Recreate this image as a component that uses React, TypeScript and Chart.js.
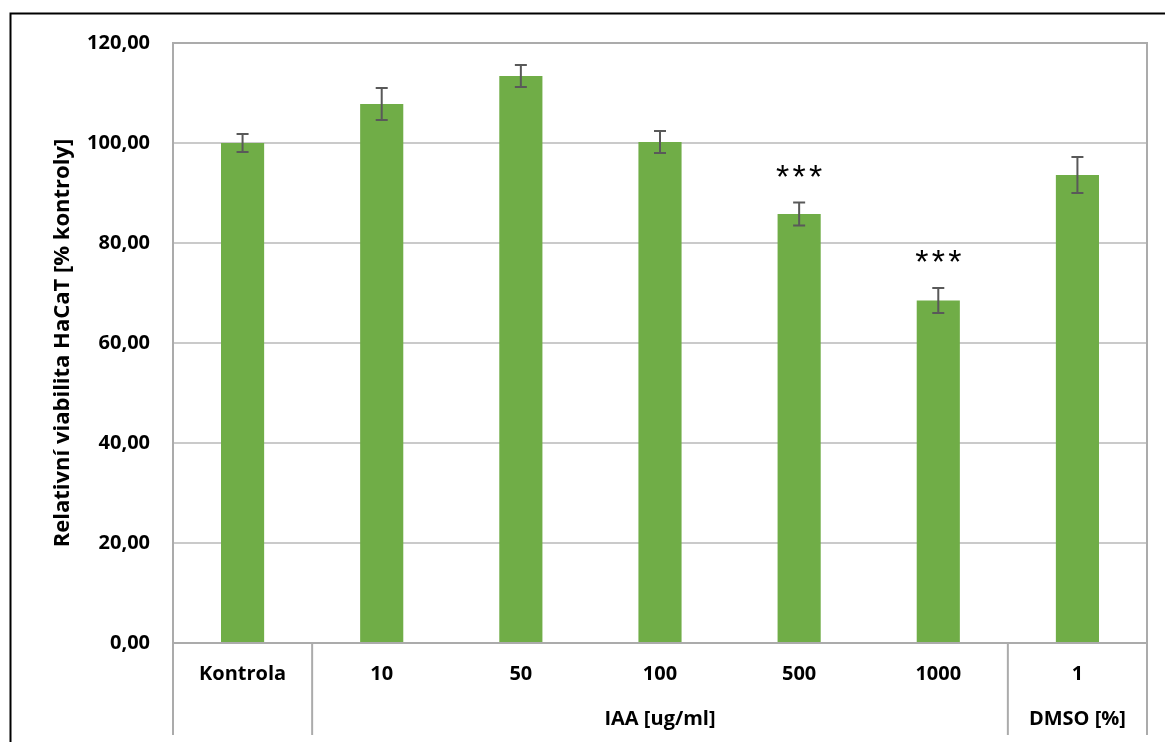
import React, { useEffect, useRef } from 'react';
import { Chart, registerables } from 'chart.js';

Chart.register(...registerables);

const categories = ['Kontrola', '10', '50', '100', '500', '1000', '1'];
const viability = [100.0, 107.8, 113.4, 100.2, 85.8, 68.5, 93.6];
const errors = [1.8, 3.2, 2.2, 2.2, 2.3, 2.5, 3.6];
const significance = ['', '', '', '', '***', '***', ''];
const groupLabels = ['', 'IAA [ug/ml]', 'DMSO [%]'];
const groupFrom = [0, 1, 6];
const groupTo = [0, 5, 6];
const yMin = 0;
const yMax = 120;
const yStep = 20;
const yTitle = 'Relativní viabilita HaCaT [% kontroly]';

const FONT = '"Open Sans", "Noto Sans", sans-serif';
const FSIZE = 20;
const TITLE_SIZE = 22;
const AXIS_GRAY = '#ABABAB';
const GRID_GRAY = '#CACACA';

const overlay = {
  id: 'overlay',
  beforeDraw(chart: any) {
    const ctx = chart.ctx;
    ctx.save();
    ctx.fillStyle = '#ffffff';
    ctx.fillRect(0, 0, chart.width, chart.height);
    ctx.strokeStyle = '#000000';
    ctx.lineWidth = 2;
    ctx.beginPath();
    ctx.moveTo(10.5, chart.height);
    ctx.lineTo(10.5, 13.5);
    ctx.lineTo(chart.width, 13.5);
    ctx.stroke();
    ctx.restore();
  },
  afterDatasetsDraw(chart: any) {
    const ctx = chart.ctx;
    const x = chart.scales.x;
    const y = chart.scales.y;
    ctx.save();
    ctx.strokeStyle = '#595959';
    ctx.lineWidth = 2;
    viability.forEach((v, i) => {
      const px = x.getPixelForValue(i);
      const top = y.getPixelForValue(v + errors[i]);
      const bot = y.getPixelForValue(v - errors[i]);
      ctx.beginPath();
      ctx.moveTo(px, top);
      ctx.lineTo(px, bot);
      ctx.moveTo(px - 6, top);
      ctx.lineTo(px + 6, top);
      ctx.moveTo(px - 6, bot);
      ctx.lineTo(px + 6, bot);
      ctx.stroke();
    });
    ctx.fillStyle = '#000000';
    ctx.font = '34px "Liberation Sans", Arial, sans-serif';
    ctx.textAlign = 'center';
    ctx.textBaseline = 'alphabetic';
    const m = ctx.measureText('*');
    const half = (m.actualBoundingBoxAscent - m.actualBoundingBoxDescent) / 2;
    significance.forEach((s, i) => {
      if (!s) return;
      const px = x.getPixelForValue(i);
      const cy = y.getPixelForValue(viability[i] + errors[i]) - 32;
      const n = s.length;
      for (let k = 0; k < n; k++) {
        const ox = (k - (n - 1) / 2) * 16.5;
        ctx.fillText('*', px + ox, cy + half);
      }
    });
    ctx.restore();
  },
  afterDraw(chart: any) {
    const ctx = chart.ctx;
    const x = chart.scales.x;
    const area = chart.chartArea;
    const bottomLine = 735;
    ctx.save();
    ctx.strokeStyle = AXIS_GRAY;
    ctx.lineWidth = 2;
    ctx.beginPath();
    ctx.moveTo(area.left, area.top);
    ctx.lineTo(area.right, area.top);
    ctx.lineTo(area.right, bottomLine);
    ctx.stroke();
    ctx.beginPath();
    ctx.moveTo(area.left, area.top);
    ctx.lineTo(area.left, bottomLine);
    ctx.stroke();
    const boundary = (i: number) => (x.getPixelForValue(i - 1) + x.getPixelForValue(i)) / 2;
    groupFrom.forEach((f) => {
      if (f === 0) return;
      const bx = boundary(f);
      ctx.beginPath();
      ctx.moveTo(bx, area.bottom);
      ctx.lineTo(bx, bottomLine);
      ctx.stroke();
    });
    ctx.fillStyle = '#000000';
    ctx.font = 'bold ' + FSIZE + 'px ' + FONT;
    ctx.textAlign = 'center';
    ctx.textBaseline = 'middle';
    groupLabels.forEach((g, gi) => {
      if (!g) return;
      const cx = (x.getPixelForValue(groupFrom[gi]) + x.getPixelForValue(groupTo[gi])) / 2;
      ctx.fillText(g, cx, 719);
    });
    ctx.restore();
  },
};

export default function App() {
  const ref = useRef<HTMLCanvasElement | null>(null);
  useEffect(() => {
    if (!ref.current) return;
    const chart = new Chart(ref.current, {
      type: 'bar',
      data: {
        labels: categories,
        datasets: [
          {
            data: viability,
            backgroundColor: '#70AD47',
            borderWidth: 0,
            barPercentage: 0.31,
            categoryPercentage: 1,
          },
        ],
      },
      options: {
        animation: false,
        responsive: false,
        devicePixelRatio: 1,
        layout: { padding: { top: 43, right: 18, left: 0, bottom: 0 } },
        plugins: { legend: { display: false }, tooltip: { enabled: false } },
        scales: {
          x: {
            grid: { display: false, drawTicks: false },
            border: { display: true, color: AXIS_GRAY, width: 2 },
            ticks: {
              color: '#000000',
              font: { family: FONT, size: FSIZE, weight: 'bold' },
              padding: 19,
              maxRotation: 0,
              autoSkip: false,
            },
            afterFit: (s: any) => {
              s.height = 99;
            },
          },
          y: {
            min: yMin,
            max: yMax,
            grid: {
              color: (c: any) => (c.tick && (c.tick.value === yMin || c.tick.value === yMax) ? AXIS_GRAY : GRID_GRAY),
              lineWidth: 2,
              drawTicks: false,
            },
            border: { display: true, color: AXIS_GRAY, width: 2 },
            ticks: {
              stepSize: yStep,
              color: '#000000',
              font: { family: FONT, size: FSIZE, weight: 'bold' },
              padding: 23,
              callback: (v: any) => Number(v).toFixed(2).replace('.', ','),
            },
            title: {
              display: true,
              text: yTitle,
              color: '#000000',
              font: { family: FONT, size: TITLE_SIZE, weight: 'bold' },
              padding: { top: 50, bottom: 0 },
            },
            afterFit: (s: any) => {
              s.width = 173;
            },
          },
        },
      },
      plugins: [overlay],
    });
    return () => chart.destroy();
  }, []);
  return (
    <div style={{ position: 'fixed', left: 0, top: 0, width: 1165, height: 742, background: '#fff' }}>
      <canvas ref={ref} width={1165} height={742} style={{ display: 'block' }} />
    </div>
  );
}
